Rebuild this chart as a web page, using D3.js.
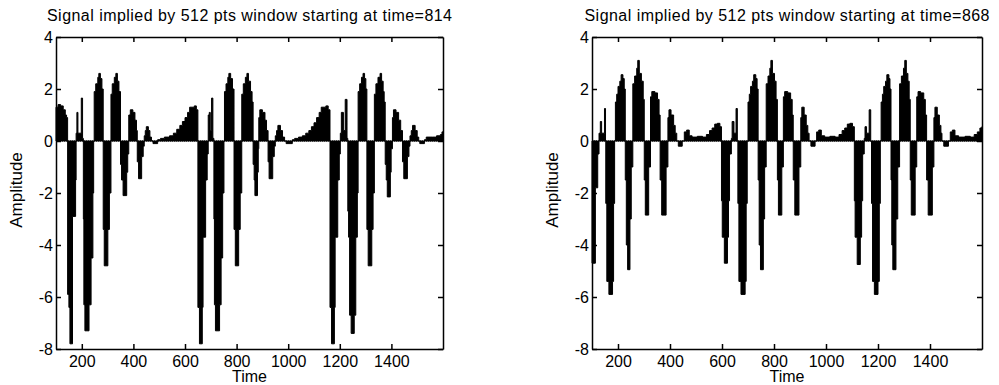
<!DOCTYPE html>
<html>
<head>
<meta charset="utf-8">
<script src="https://cdn.jsdelivr.net/npm/d3@7"></script>
<style>
  body { margin: 0; background: #fff; }
  svg text { font-family: "Liberation Sans", Arial, sans-serif; fill: #000; }
</style>
</head>
<body>
<script>
const width = 999;
const height = 385;

const xTicks = [200, 400, 600, 800, 1000, 1200, 1400];
const yTicks = [4, 2, 0, -2, -4, -6, -8];
const titles = [
    'Signal implied by 512 pts window starting at time=814',
    'Signal implied by 512 pts window starting at time=868'
];

// envelope of the signal as steps: [time, amplitude held until the next time]
const steps814 = [
    [100, 1.3], [108, 1.4], [118, 1.35], [128, 1.2], [136, 1.0], [141, 0.9],
    [145, -5.9], [150, -6.4], [154, -7.8], [164, -2.9], [176, -1.5], [178, 0.3],
    [181, 1.1], [185, 0.3], [198, 1.65], [203, 0.1],
    [206, -3.0], [208, -6.3], [212, -7.3], [228, -6.3], [236, -4.5], [243, -2.0], [246, 0],
    [248, 1.9], [254, 2.2], [262, 2.45], [266, 2.6], [272, 2.4], [278, 2.0],
    [283, -3.4], [287, -4.8], [301, -3.4], [307, -2.0],
    [313, 1.8], [318, 2.2], [326, 2.45], [332, 2.6], [338, 2.3], [344, 1.9],
    [350, -0.9], [354, -1.5], [360, -2.1], [374, -1.2], [378, -0.5],
    [382, 1.0], [388, 1.2], [398, 1.1], [406, 0.8], [412, 0.4],
    [415, -0.8], [420, -1.45], [432, -0.6], [438, -0.2],
    [442, 0.2], [446, 0.4], [450, 0.55], [458, 0.4], [464, 0.15], [470, 0],
    [476, -0.1], [494, 0.05],
    [505, 0.1], [520, 0.15], [540, 0.2], [555, 0.3], [568, 0.45], [580, 0.6], [590, 0.75],
    [600, 0.9], [610, 1.1], [618, 1.3], [636, 1.35], [644, 1.2],
    [650, -6.4], [656, -7.8], [667, -6.4], [670, -3.7], [680, -1.5], [686, -0.5],
    [690, 1.0], [694, 1.1], [698, 0.4], [703, 1.65], [708, 0.1],
    [712, -3.0], [714, -6.3], [718, -7.3], [734, -6.3], [740, -4.5], [746, -2.0], [751, 0],
    [753, 1.9], [759, 2.2], [766, 2.45], [770, 2.6], [777, 2.4], [784, 2.0],
    [790, -3.4], [795, -4.8], [808, -3.4], [814, -2.0],
    [820, 1.8], [826, 2.2], [834, 2.45], [840, 2.6], [846, 2.3], [854, 1.9], [860, 1.5],
    [864, -0.9], [868, -1.5], [871, -2.1], [881, -1.2], [884, -0.3],
    [886, 0.9], [890, 1.2], [900, 1.1], [910, 0.8], [916, 0.4],
    [922, -0.8], [926, -1.45], [940, -0.6], [946, -0.2],
    [950, 0.2], [955, 0.4], [960, 0.6], [970, 0.4], [978, 0.15], [986, 0],
    [992, -0.1], [1016, 0.05],
    [1025, 0.1], [1040, 0.15], [1055, 0.2], [1068, 0.3], [1080, 0.4], [1090, 0.55], [1100, 0.7],
    [1110, 0.9], [1120, 1.1], [1128, 1.3], [1146, 1.35], [1155, 1.2],
    [1162, -6.4], [1168, -7.8], [1179, -6.4], [1182, -3.7], [1192, -1.5], [1198, -0.5],
    [1202, 0.3], [1206, 1.1], [1214, 0.4], [1221, 1.6], [1228, 0.1],
    [1231, -2.7], [1234, -3.7], [1238, -6.7], [1244, -7.4], [1256, -6.7], [1262, -3.7], [1268, -2.0],
    [1271, 1.9], [1277, 2.2], [1284, 2.45], [1290, 2.6], [1296, 2.4], [1301, 2.0],
    [1305, -3.4], [1310, -4.8], [1324, -3.4], [1329, -2.0],
    [1334, 1.8], [1340, 2.2], [1348, 2.45], [1356, 2.6], [1362, 2.3], [1368, 1.9], [1372, 1.5],
    [1376, -0.9], [1380, -1.5], [1384, -2.15], [1396, -1.2], [1399, -0.3],
    [1404, 0.9], [1408, 1.2], [1418, 1.1], [1428, 0.8], [1436, 0.4],
    [1443, -0.8], [1448, -1.45], [1462, -0.6], [1468, -0.2],
    [1472, 0.2], [1477, 0.4], [1482, 0.6], [1492, 0.4], [1500, 0.15], [1506, 0],
    [1510, -0.1], [1528, 0.05],
    [1535, 0.15], [1560, 0.15], [1575, 0.2], [1590, 0.25], [1596, 0.35], [1600, 0.35]
];

const steps868 = [
    [100, -4.7], [113, -1.8], [122, -0.5], [127, 0.3], [132, 0.75], [137, 0.3], [148, 1.25], [152, 0],
    [153, -2.4], [157, -5.4], [165, -5.9], [179, -5.4], [183, -2.4], [187, 0],
    [190, 1.5], [195, 1.8], [200, 2.1], [207, 2.3], [212, 2.55], [219, 2.4], [224, 2.0],
    [228, -1.5], [232, -4.0], [237, -4.95], [246, -3.0], [251, -1.0],
    [257, 2.2], [264, 2.5], [272, 2.8], [276, 3.1], [282, 2.6], [290, 2.3], [297, 1.6],
    [301, -1.5], [305, -2.85], [318, -1.0],
    [325, 1.7], [330, 1.9], [342, 1.85], [352, 1.6], [358, 1.0],
    [362, -1.5], [368, -2.85], [385, -1.0],
    [392, 0.9], [396, 1.2], [404, 1.0], [414, 0.6], [420, 0.3], [426, 0],
    [432, -0.2], [447, 0],
    [455, 0.35], [464, 0.42], [474, 0.2], [485, 0.15], [505, 0.18], [525, 0.15], [540, 0.25],
    [552, 0.4], [562, 0.5], [572, 0.65], [582, 0.68], [592, 0.55],
    [598, -2.3], [601, -3.7], [609, -4.7], [621, -3.7], [625, -2.3], [629, -0.5],
    [636, 0.1], [639, 0.75], [646, 0.3], [654, 1.25], [659, 0],
    [661, -2.4], [665, -5.4], [673, -5.9], [689, -5.4], [693, -2.4], [697, 0],
    [700, 1.5], [705, 1.8], [710, 2.1], [717, 2.3], [722, 2.55], [730, 2.4], [735, 2.0],
    [739, -1.5], [743, -4.0], [748, -4.95], [759, -3.0], [764, -1.0],
    [770, 2.2], [777, 2.5], [784, 2.8], [788, 3.1], [794, 2.6], [802, 2.3], [808, 1.6],
    [813, -1.5], [817, -2.85], [830, -1.0],
    [836, 1.7], [841, 1.9], [853, 1.85], [864, 1.6], [870, 1.0],
    [874, -1.5], [880, -2.85], [896, -1.0],
    [903, 0.9], [907, 1.3], [916, 1.0], [924, 0.6], [930, 0.3], [935, 0],
    [942, -0.2], [958, 0],
    [964, 0.35], [972, 0.42], [982, 0.2], [995, 0.15], [1015, 0.18], [1035, 0.15], [1050, 0.25],
    [1062, 0.4], [1072, 0.5], [1082, 0.65], [1092, 0.68], [1102, 0.55],
    [1109, -2.3], [1112, -3.7], [1120, -4.75], [1132, -3.7], [1137, -2.3], [1141, -0.5],
    [1147, 0.1], [1150, 0.55], [1156, 0.3], [1166, 1.2], [1172, 0],
    [1175, -2.4], [1179, -5.4], [1186, -5.9], [1200, -5.4], [1205, -2.4], [1209, 0],
    [1212, 1.5], [1217, 1.8], [1222, 2.1], [1229, 2.3], [1234, 2.55], [1242, 2.4], [1246, 2.0],
    [1250, -1.5], [1253, -4.0], [1257, -4.95], [1269, -3.0], [1276, -1.0],
    [1283, 2.2], [1290, 2.5], [1298, 2.8], [1303, 3.1], [1309, 2.6], [1315, 2.3], [1320, 1.6],
    [1324, -1.5], [1328, -2.85], [1343, -1.0],
    [1349, 1.7], [1354, 1.9], [1364, 1.85], [1376, 1.6], [1382, 1.0],
    [1387, -1.5], [1393, -2.85], [1409, -1.0],
    [1415, 0.9], [1419, 1.3], [1428, 1.0], [1436, 0.6], [1442, 0.3], [1446, 0],
    [1453, -0.2], [1471, 0],
    [1478, 0.35], [1486, 0.42], [1496, 0.2], [1510, 0.15], [1535, 0.18], [1555, 0.15],
    [1570, 0.25], [1582, 0.35], [1592, 0.5], [1600, 0.55]
];

const panels = [
    { title: titles[0], data: steps814, left: 56, right: 443 },
    { title: titles[1], data: steps868, left: 592, right: 982 }
];
const plotTop = 37;
const plotBottom = 349;

const svg = d3.select('body')
    .append('svg')
    .attr('width', width)
    .attr('height', height);

panels.forEach(p => {
    const x = d3.scaleLinear().domain([100, 1600]).range([p.left, p.right]);
    const y = d3.scaleLinear().domain([-8, 4]).range([plotBottom, plotTop]);
    const g = svg.append('g');

    // dotted zero line
    g.append('line')
        .attr('x1', p.left).attr('x2', p.right)
        .attr('y1', y(0)).attr('y2', y(0))
        .style('stroke', '#000')
        .style('stroke-width', 1)
        .style('stroke-dasharray', '1,1');

    const area = d3.area()
        .curve(d3.curveStepAfter)
        .x(d => x(d[0]))
        .y0(y(0))
        .y1(d => y(d[1]));

    g.append('path')
        .datum(p.data)
        .attr('d', area)
        .style('fill', '#000')
        .style('stroke', '#000')
        .style('stroke-width', 1);

    const fmt = d => String(d);

    const xb = g.append('g')
        .attr('transform', `translate(0,${plotBottom})`)
        .call(d3.axisBottom(x).tickValues(xTicks).tickFormat(fmt)
            .tickSizeInner(-5).tickSizeOuter(0).tickPadding(7));
    const xt = g.append('g')
        .attr('transform', `translate(0,${plotTop})`)
        .call(d3.axisTop(x).tickValues(xTicks).tickFormat('')
            .tickSizeInner(-5).tickSizeOuter(0));
    const yl = g.append('g')
        .attr('transform', `translate(${p.left},0)`)
        .call(d3.axisLeft(y).tickValues(yTicks).tickFormat(fmt)
            .tickSizeInner(-5).tickSizeOuter(0).tickPadding(3));
    const yr = g.append('g')
        .attr('transform', `translate(${p.right},0)`)
        .call(d3.axisRight(y).tickValues(yTicks).tickFormat('')
            .tickSizeInner(-5).tickSizeOuter(0));

    [xb, xt, yl, yr].forEach(a => {
        a.select('.domain').style('stroke', '#000').style('stroke-width', 1.5);
        a.selectAll('.tick line').style('stroke', '#000').style('stroke-width', 1.5);
        a.selectAll('.tick text')
            .style('font-family', '"Liberation Sans", Arial, sans-serif')
            .style('font-size', '16px');
    });

    g.append('text')
        .attr('x', (p.left + p.right) / 2)
        .attr('y', 21)
        .attr('text-anchor', 'middle')
        .attr('textLength', 405)
        .attr('lengthAdjust', 'spacing')
        .style('font-size', '16px')
        .text(p.title);

    g.append('text')
        .attr('x', (p.left + p.right) / 2)
        .attr('y', 382)
        .attr('text-anchor', 'middle')
        .style('font-size', '16px')
        .text('Time');

    g.append('text')
        .attr('transform', `translate(${p.left - 34},${(plotTop + plotBottom) / 2 - 3}) rotate(-90)`)
        .attr('text-anchor', 'middle')
        .style('font-size', '17px')
        .text('Amplitude');
});
</script>
</body>
</html>
